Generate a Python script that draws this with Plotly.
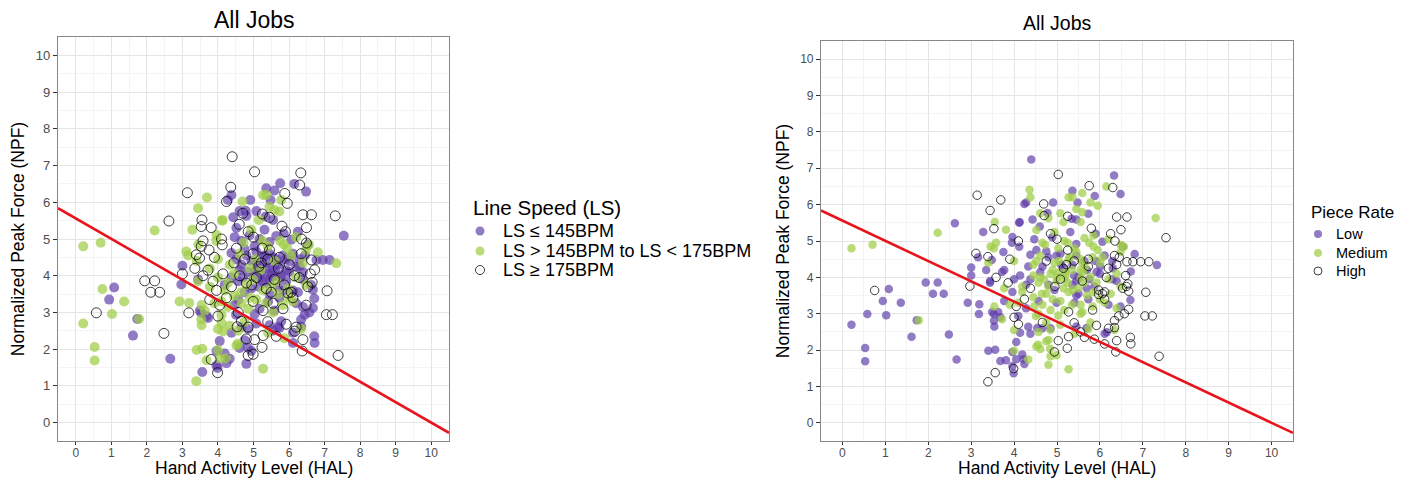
import plotly.graph_objects as go

# ---------------- data ----------------
# Line speed group LS <= 145 BPM  (ls_*_pr = piece-rate class of the same job)
ls_low_hal = [5.75, 6.15, 6.48, 5.36, 5.59, 4.38, 4.28, 4.91, 5.48, 4.61,
              4.78, 5.08, 4.43, 4.80, 5.34, 5.55, 7.54, 3.00, 2.97, 1.08,
              0.94, 1.73, 1.61, 2.66, 3.56, 3.99, 4.33, 4.80, 3.96, 4.05,
              4.84, 4.94, 3.53, 3.72, 4.51, 5.78, 5.69, 6.11, 6.72, 6.34,
              6.44, 6.67, 6.77, 6.95, 7.14, 6.67, 4.47, 4.66, 4.89, 5.17,
              5.45, 5.64, 5.85, 6.06, 6.25, 6.53, 4.75, 5.03, 5.31, 4.52,
              4.38, 4.52, 4.66, 4.80, 4.94, 5.08, 5.17, 5.27, 5.36, 5.45,
              5.55, 5.64, 5.73, 5.83, 5.92, 6.01, 6.11, 6.20, 6.29, 6.39,
              4.61, 5.03, 5.40, 5.78, 3.44, 4.19, 4.38, 4.57, 4.94, 5.17,
              5.36, 5.55, 5.69, 5.92, 6.11, 6.39, 6.62, 4.75, 5.45, 6.25,
              3.49, 3.68, 4.47, 4.57, 5.17, 5.41, 5.59, 5.73, 6.20, 6.39,
              6.57, 6.71, 5.03, 4.38, 4.66, 4.85, 5.08, 5.45, 5.55, 5.73,
              6.11, 6.34, 6.71, 3.96, 4.24, 4.19, 4.61, 4.75, 5.20, 5.35,
              5.50, 5.60, 5.25, 5.45, 5.65, 5.10, 5.30, 5.75, 5.00, 5.90,
              4.85, 5.55, 5.15, 6.00, 4.70, 5.85, 6.30, 6.45]
ls_low_npf = [6.52, 6.50, 6.29, 6.38, 6.32, 6.20, 6.06, 6.06, 6.06, 5.76,
              5.77, 5.76, 5.59, 5.63, 5.61, 5.52, 5.09, 4.27, 3.76, 3.68,
              3.35, 2.82, 2.37, 1.74, 1.38, 1.49, 1.74, 1.60, 1.95, 2.22,
              2.04, 1.95, 2.99, 2.85, 2.94, 2.76, 2.61, 2.17, 2.17, 2.81,
              2.94, 3.12, 4.43, 4.43, 4.43, 3.62, 5.05, 4.95, 5.10, 5.00,
              4.92, 5.08, 5.15, 4.98, 5.20, 4.85, 4.72, 4.80, 5.25, 5.30,
              4.62, 4.45, 4.30, 4.55, 4.40, 4.65, 4.25, 4.50, 4.35, 4.60,
              4.20, 4.45, 4.30, 4.55, 4.15, 4.40, 4.60, 4.25, 4.45, 4.10,
              4.15, 4.12, 4.05, 4.02, 3.90, 3.75, 3.95, 3.85, 3.65, 3.95,
              3.80, 3.98, 3.70, 3.85, 3.60, 3.90, 3.75, 3.55, 3.50, 3.55,
              3.05, 2.90, 3.20, 3.35, 3.10, 3.30, 3.05, 3.40, 3.25, 3.15,
              3.00, 3.38, 2.95, 2.45, 2.60, 2.55, 2.70, 2.65, 2.50, 2.58,
              2.45, 2.62, 2.35, 1.56, 1.62, 1.88, 2.03, 2.24, 4.05, 4.20,
              4.00, 4.15, 3.85, 3.90, 4.30, 4.35, 4.55, 3.95, 4.00, 4.45,
              4.10, 4.50, 3.70, 4.10, 3.95, 3.60, 4.25, 4.55]
ls_low_pr = ["H", "M", "L", "L", "M", "M", "L", "L", "L", "M",
             "L", "M", "L", "M", "L", "M", "H", "L", "H", "L",
             "L", "L", "L", "L", "H", "H", "M", "M", "L", "L",
             "M", "H", "L", "M", "M", "M", "L", "H", "H", "H",
             "H", "H", "H", "H", "H", "H", "L", "M", "L", "M",
             "L", "M", "M", "L", "H", "L", "L", "M", "L", "M",
             "L", "M", "L", "L", "M", "L", "L", "M", "L", "L",
             "M", "L", "H", "M", "L", "M", "L", "H", "L", "M",
             "L", "M", "L", "M", "L", "M", "L", "M", "L", "M",
             "L", "M", "L", "M", "H", "L", "H", "M", "L", "M",
             "L", "L", "M", "L", "M", "L", "M", "L", "L", "M",
             "H", "L", "M", "L", "L", "M", "M", "L", "H", "M",
             "L", "H", "H", "L", "L", "L", "M", "M", "M", "M",
             "L", "M", "M", "L", "M", "L", "M", "L", "M", "L",
             "M", "M", "M", "L", "M", "M", "L", "H"]

# Line speed group 145 < LS < 175 BPM
ls_mid_hal = [0.21, 0.70, 0.21, 0.75, 1.02, 1.36, 0.53, 0.53, 1.78, 2.22,
              3.69, 3.44, 3.28, 4.12, 3.11, 2.92, 3.19, 3.39, 3.56, 3.53,
              4.56, 5.27, 4.10, 4.10, 4.33, 4.05, 4.22, 7.33, 6.81, 6.56,
              5.36, 4.69, 5.78, 5.27, 5.45, 5.59, 5.73, 5.15, 4.13, 3.96,
              4.94, 3.95, 3.45, 4.72, 5.75, 6.20, 6.48, 3.16, 3.40, 3.77,
              4.00, 4.33, 4.61, 5.59, 6.06, 6.39, 3.44, 3.77, 4.00, 4.19,
              4.28, 4.80, 4.99, 5.27, 5.64, 5.97, 6.20, 6.48, 3.54, 3.63,
              4.10, 4.28, 4.66, 4.85, 5.08, 5.55, 5.83, 6.11, 3.54, 4.00,
              4.14, 4.57, 4.75, 5.41, 5.87, 6.34, 3.40, 3.68, 4.00, 4.52,
              5.20, 5.50, 4.45, 5.95, 5.35, 4.90, 5.05, 5.40, 4.65, 4.90,
              5.70, 5.25, 4.45, 6.00, 3.90, 5.85]
ls_mid_npf = [4.80, 4.90, 2.70, 3.64, 2.96, 3.30, 2.06, 1.69, 2.82, 5.23,
              6.13, 5.84, 5.25, 5.50, 4.66, 3.30, 3.26, 1.13, 2.01, 2.81,
              2.15, 1.47, 2.94, 2.71, 2.64, 1.75, 1.75, 4.34, 4.64, 4.84,
              6.20, 6.02, 6.06, 6.20, 5.88, 5.79, 5.75, 5.52, 5.52, 5.11,
              5.25, 4.95, 4.85, 4.90, 4.95, 5.05, 4.70, 4.55, 4.40, 4.20,
              4.45, 4.30, 4.60, 4.40, 4.55, 4.35, 3.85, 3.70, 3.95, 3.60,
              3.80, 3.75, 3.90, 3.60, 3.85, 3.65, 3.95, 3.75, 3.20, 3.05,
              3.30, 3.15, 3.25, 3.10, 3.35, 3.00, 3.20, 3.30, 2.65, 2.55,
              2.48, 2.50, 2.75, 2.45, 2.30, 2.55, 1.98, 1.70, 1.98, 2.10,
              4.15, 3.70, 4.05, 4.75, 3.25, 4.20, 4.45, 4.80, 3.55, 3.40,
              3.50, 4.95, 3.45, 3.40, 3.25, 4.85]
ls_mid_pr = ["M", "M", "L", "H", "L", "L", "L", "L", "M", "M",
             "H", "H", "L", "L", "H", "L", "L", "H", "L", "L",
             "M", "M", "L", "H", "L", "L", "L", "L", "L", "M",
             "M", "H", "M", "M", "M", "M", "L", "M", "L", "L",
             "M", "L", "M", "M", "M", "M", "M", "L", "M", "L",
             "M", "L", "M", "M", "M", "H", "L", "M", "L", "M",
             "L", "M", "M", "M", "M", "H", "M", "M", "M", "L",
             "M", "L", "M", "M", "M", "M", "M", "M", "L", "M",
             "L", "M", "M", "M", "H", "M", "L", "L", "M", "M",
             "M", "M", "M", "M", "M", "M", "M", "M", "M", "M",
             "M", "M", "M", "M", "M", "M"]

# Line speed group LS >= 175 BPM
ls_high_hal = [4.40, 5.03, 6.33, 3.14, 4.36, 6.30, 5.88, 5.95, 4.24, 2.62,
               3.55, 3.53, 3.81, 6.39, 6.63, 7.30, 6.49, 3.53, 4.12, 3.39,
               3.48, 3.00, 1.94, 2.22, 2.11, 2.36, 0.58, 3.18, 2.48, 7.05,
               7.22, 7.07, 7.38, 6.37, 6.16, 6.39, 5.24, 4.99, 4.85, 5.03,
               5.27, 3.81, 3.99, 4.80, 5.64, 4.54, 4.66, 6.65, 6.63, 6.72,
               6.49, 5.97, 4.70, 5.25, 5.45, 4.60, 4.85, 5.00, 5.90, 6.35,
               4.10, 3.58, 3.75, 3.90, 4.52, 4.75, 4.99, 5.22, 5.45, 5.73,
               6.01, 6.34, 3.35, 3.58, 3.72, 3.86, 3.96, 4.14, 4.38, 4.61,
               4.80, 5.08, 5.36, 5.59, 5.87, 6.06, 6.29, 6.53, 3.77, 4.05,
               4.24, 4.57, 4.99, 5.27, 5.55, 5.83, 6.11, 6.48, 4.00, 4.85,
               5.40, 5.92, 6.20, 5.15, 5.40, 5.70, 4.95, 5.50, 5.25, 6.15,
               4.45, 6.60, 5.80]
ls_high_npf = [7.24, 6.83, 6.80, 6.26, 6.41, 6.47, 6.24, 5.97, 6.02, 5.49,
               5.52, 5.34, 5.31, 5.66, 5.66, 5.63, 5.31, 4.80, 4.84, 4.57,
               4.48, 4.05, 3.86, 3.86, 3.55, 3.55, 2.99, 2.99, 2.43, 2.94,
               2.94, 3.59, 1.83, 1.95, 2.49, 2.26, 2.05, 1.86, 1.83, 2.26,
               2.37, 1.72, 1.36, 2.28, 2.35, 2.61, 2.76, 3.82, 4.43, 4.16,
               4.89, 3.53, 5.70, 5.68, 5.59, 5.40, 5.20, 5.05, 5.20, 5.00,
               5.00, 4.95, 4.70, 4.50, 4.75, 4.45, 4.60, 4.35, 4.70, 4.50,
               4.30, 4.60, 4.20, 4.00, 4.15, 3.85, 3.60, 4.05, 3.70, 4.00,
               3.80, 3.95, 3.65, 3.90, 3.75, 3.55, 3.95, 3.70, 3.35, 3.20,
               3.40, 3.00, 3.30, 3.05, 3.25, 3.10, 3.40, 3.20, 2.90, 2.60,
               2.75, 2.68, 2.60, 4.25, 4.45, 4.20, 3.75, 3.55, 4.75, 4.00,
               4.35, 4.05, 5.35]
ls_high_pr = ["L", "H", "L", "H", "M", "H", "L", "M", "L", "L",
              "M", "H", "M", "H", "H", "M", "H", "M", "L", "H",
              "L", "L", "L", "L", "L", "L", "L", "L", "L", "H",
              "H", "H", "H", "H", "L", "H", "H", "M", "M", "H",
              "H", "L", "L", "M", "H", "L", "H", "H", "H", "L",
              "M", "H", "H", "H", "L", "L", "H", "H", "L", "H",
              "H", "M", "L", "H", "L", "H", "L", "H", "M", "H",
              "L", "H", "L", "H", "L", "H", "L", "L", "H", "M",
              "L", "H", "M", "H", "L", "H", "L", "H", "L", "H",
              "H", "M", "L", "H", "M", "H", "H", "L", "H", "L",
              "H", "H", "H", "H", "H", "L", "H", "L", "H", "H",
              "M", "H", "H"]

# fitted reference line NPF = intercept + slope * HAL
fit_intercept = 5.56
fit_slope = -0.556

ls_title = "Line Speed (LS)"
ls_labels = ["LS \u2264 145BPM", "LS > 145BPM to LS < 175BPM", "LS \u2265 175BPM"]
pr_title = "Piece Rate"
pr_codes = ["L", "M", "H"]
pr_labels = ["Low", "Medium", "High"]
x_title = "Hand Activity Level (HAL)"
y_title = "Normalized Peak Force (NPF)"
panel_title = "All Jobs"

# ---------------- styling ----------------
W, H = 1412, 479
FONT = "Liberation Sans, Arial, Helvetica, sans-serif"
PURPLE = "rgba(94,60,170,0.68)"
GREEN = "rgba(160,205,70,0.72)"
HOLLOW = "rgba(0,0,0,0.75)"
FILLS = [PURPLE, GREEN, None]
X_RANGE = [-0.5, 10.5]
Y_RANGE = [-0.5, 10.5]


def px_x(p):
    return p / W


def px_y(p):
    return 1 - p / H


def marker(kind, size):
    if kind < 2:
        return dict(color=FILLS[kind], size=size, line=dict(width=0))
    return dict(symbol="circle-open", color=HOLLOW, size=size, line=dict(width=1, color=HOLLOW))


fig = go.Figure()

groups = [(ls_low_hal, ls_low_npf, ls_low_pr),
          (ls_mid_hal, ls_mid_npf, ls_mid_pr),
          (ls_high_hal, ls_high_npf, ls_high_pr)]

# left panel: coloured by line speed
for k, (hx, ny, _) in enumerate(groups):
    fig.add_trace(go.Scatter(x=hx, y=ny, mode="markers", name=ls_labels[k],
                             marker=marker(k, 10), xaxis="x", yaxis="y",
                             showlegend=False, hoverinfo="x+y"))

# right panel: same jobs coloured by piece rate
all_hal = ls_low_hal + ls_mid_hal + ls_high_hal
all_npf = ls_low_npf + ls_mid_npf + ls_high_npf
all_pr = ls_low_pr + ls_mid_pr + ls_high_pr
for k, code in enumerate(pr_codes):
    hx = [h for h, p in zip(all_hal, all_pr) if p == code]
    ny = [n for n, p in zip(all_npf, all_pr) if p == code]
    fig.add_trace(go.Scatter(x=hx, y=ny, mode="markers", name=pr_labels[k],
                             marker=marker(k, 8.5), xaxis="x2", yaxis="y2",
                             showlegend=False, hoverinfo="x+y"))

# fitted red line in both panels
fit_x = X_RANGE
fit_y = [fit_intercept + fit_slope * v for v in fit_x]
for xa, ya in (("x", "y"), ("x2", "y2")):
    fig.add_trace(go.Scatter(x=fit_x, y=fit_y, mode="lines", xaxis=xa, yaxis=ya,
                             line=dict(color="#e8141b", width=2.6),
                             showlegend=False, hoverinfo="skip"))

ticks = list(range(0, 11))


def axis_style(domain, rng, tick_size, ticklen, title=None, title_size=None, standoff=None,
               tl_shift=0):
    d = dict(domain=domain, range=rng, tickvals=ticks, ticktext=[str(t) for t in ticks],
             showgrid=True, gridcolor="#e5e5e5", gridwidth=1,
             minor=dict(dtick=0.5, tick0=0, showgrid=True, gridcolor="#f4f4f4", gridwidth=1),
             zeroline=False, showline=True, mirror=True, linecolor="#888888", linewidth=1.2,
             ticks="outside", ticklen=ticklen, tickcolor="#333333", tickwidth=1,
             ticklabelstandoff=tl_shift,
             tickfont=dict(family=FONT, size=tick_size, color="#4d4d4d"))
    if title:
        d["title"] = dict(text=title, font=dict(family=FONT, size=title_size, color="#000000"),
                          standoff=standoff)
    return d


xa1 = axis_style([px_x(58), px_x(449)], X_RANGE, 12, 3, tl_shift=-3)
ya1 = axis_style([px_y(441), px_y(37)], Y_RANGE, 13, 4, y_title, 17.5, 6)
xa2 = axis_style([px_x(821), px_x(1293)], X_RANGE, 12, 3, tl_shift=-3)
ya2 = axis_style([px_y(441), px_y(41)], Y_RANGE, 12, 4, y_title, 17.5, 6)
xa1["anchor"] = "y"
ya1["anchor"] = "x"
xa2["anchor"] = "y2"
ya2["anchor"] = "x2"


def txt(text, x, y, size, xanchor="center", yanchor="middle"):
    return dict(text=text, x=px_x(x), y=px_y(y), xref="paper", yref="paper",
                xanchor=xanchor, yanchor=yanchor, showarrow=False, borderpad=0,
                font=dict(family=FONT, size=size, color="#000"))


annotations = [
    txt(panel_title, 254, 20, 23),
    txt(panel_title, 1057, 23, 19.5),
    txt(x_title, 254, 479, 17.5, yanchor="bottom"),
    txt(x_title, 1057, 479, 17.5, yanchor="bottom"),
    # legend: line speed
    txt(ls_title, 472, 207, 20.5, "left"),
    # legend: piece rate
    txt(pr_title, 1310, 212, 17, "left"),
]
shapes = []
ls_rows = [231, 251, 270]
pr_rows = [234, 253, 271]


def key_shape(cx, cy, d, kind):
    s = dict(type="circle", xref="paper", yref="paper",
             x0=px_x(cx - d / 2), x1=px_x(cx + d / 2),
             y0=px_y(cy + d / 2), y1=px_y(cy - d / 2))
    if kind < 2:
        s.update(fillcolor=FILLS[kind], line=dict(width=0))
    else:
        s.update(fillcolor="rgba(0,0,0,0)", line=dict(width=1, color=HOLLOW))
    return s


for k in range(3):
    annotations.append(txt(ls_labels[k], 502, ls_rows[k], 18, "left"))
    shapes.append(key_shape(480, ls_rows[k], 9, k))
    annotations.append(txt(pr_labels[k], 1335, pr_rows[k], 14.5, "left"))
    shapes.append(key_shape(1318, pr_rows[k], 8, k))

fig.update_layout(
    width=W, height=H,
    margin=dict(l=0, r=0, t=0, b=0),
    paper_bgcolor="white", plot_bgcolor="white",
    font=dict(family=FONT, color="#000000"),
    xaxis=xa1, yaxis=ya1, xaxis2=xa2, yaxis2=ya2,
    showlegend=False,
    annotations=annotations,
    shapes=shapes,
)

fig.write_html("out.html")
